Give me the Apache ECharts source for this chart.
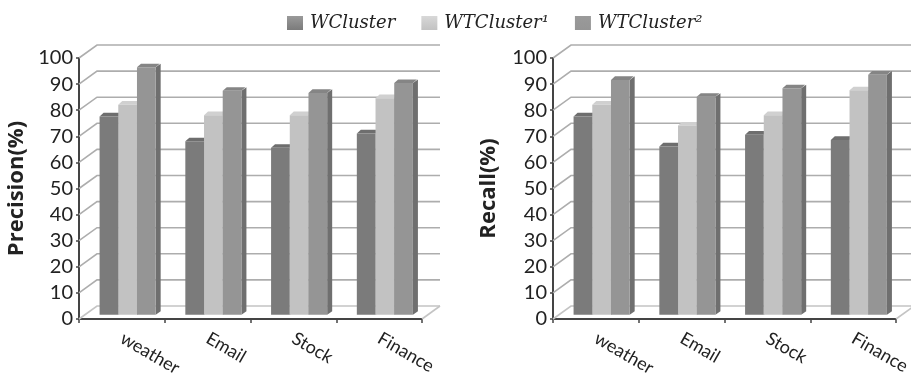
<!DOCTYPE html>
<html><head><meta charset="utf-8">
<style>html,body{margin:0;padding:0;background:#fff}#c{width:911px;height:376px}</style>
<script src="https://cdn.jsdelivr.net/npm/echarts@6/dist/echarts.min.js"></script>
</head><body><div id="c"></div>
<script>
const categories = ['weather','Email','Stock','Finance'];
const seriesNames = ['WCluster','WTCluster¹','WTCluster²'];
const yTicks = [0,10,20,30,40,50,60,70,80,90,100];
const precisionW  = [76,66.5,64,69.5];
const precisionT1 = [80.5,76.5,76.5,83];
const precisionT2 = [94.8,85.8,85,88.8];
const recallW  = [76,64.5,69,67];
const recallT1 = [80.5,72.5,76.5,86];
const recallT2 = [90,83.5,86.8,92];

const fronts = ['#7b7b7b','#c2c2c2','#959595'];
const sides  = ['#5f5f5f','#9a9a9a','#6f6f6f'];
const tops   = ['#6e6e6e','#d0d0d0','#858585'];
const WALL_DX = 18, WALL_DY = -13, BAR_DX = 5, BAR_DY = -3.6;
const BAR_W = 18.7, BAR_START = -22.3, BAR_SHIFT = -4.2;

function barRender(k){
  return function(params, api){
    const top = api.coord([api.value(0), api.value(1)]);
    const base = api.coord([api.value(0), 0]);
    const x = top[0] + BAR_START + k*BAR_W, w = BAR_W;
    const yT = top[1] + BAR_SHIFT, yB = base[1] + BAR_SHIFT;
    return {type:'group', children:[
      {type:'polygon', shape:{points:[[x+w,yT],[x+w+BAR_DX,yT+BAR_DY],[x+w+BAR_DX,yB+BAR_DY],[x+w,yB]]}, style:{fill:sides[k]}},
      {type:'polygon', shape:{points:[[x,yT],[x+BAR_DX-1,yT+BAR_DY],[x+w+BAR_DX-1,yT+BAR_DY],[x+w,yT]]}, style:{fill:tops[k]}},
      {type:'rect', shape:{x:x,y:yT,width:w,height:yB-yT}, style:{fill:fronts[k]}}
    ]};
  };
}
function wallRender(n){
  return function(params, api){
    const v = api.value(0);
    const a = api.coord([0, v]);
    const sz = api.size([1, 0]);
    const x0 = a[0] - sz[0]/2, y = a[1], x1 = x0 + sz[0]*n;
    const col = v === 0 ? '#c4c4c4' : '#adadad';
    const children = [
      {type:'polyline', shape:{points:[[x0,y],[x0+WALL_DX,y+WALL_DY],[x1+WALL_DX,y+WALL_DY]]}, style:{stroke:col,lineWidth:1.6,fill:null}}
    ];
    if (v === 0) children.push({type:'line', shape:{x1:x1,y1:y,x2:x1+WALL_DX,y2:y+WALL_DY}, style:{stroke:col,lineWidth:1.6}});
    return {type:'group', children};
  };
}
function legendColor(k){
  return {type:'linear',x:0,y:0,x2:0,y2:1,colorStops:[{offset:0,color:k===1?'#d8d8d8':'#9a9a9a'},{offset:1,color:fronts[k]}]};
}
const labelFont = 'Lato';
function axes(idx, left, right, name){
  return {
    grid:{left:left,right:right,top:58,bottom:57,outerBoundsMode:'none'},
    x:{type:'category',gridIndex:idx,data:categories,
      axisLine:{lineStyle:{color:'#444',width:2}},
      axisTick:{show:true,length:4,alignWithLabel:false,lineStyle:{color:'#444',width:1.5}},
      axisLabel:{interval:0,rotate:-30,margin:18,fontFamily:labelFont,fontSize:18,color:'#222'}},
    y:{type:'value',gridIndex:idx,min:0,max:100,interval:10,name:name,nameLocation:'middle',nameGap:name==='Recall(%)'?53:51,
      nameTextStyle:{fontFamily:'Open Sans',fontWeight:'bold',fontSize:22,color:'#222'},
      axisLine:{show:true,lineStyle:{color:'#444',width:2}},
      axisTick:{show:true,length:3,lineStyle:{color:'#444',width:1.5}},
      axisLabel:{margin:6,padding:[2,0,0,0],fontFamily:labelFont,fontSize:20,color:'#222'},
      splitLine:{show:false}}
  };
}
const a0 = axes(0,79,489,'Precision(%)'), a1 = axes(1,553,15,'Recall(%)');
const panels = [[precisionW,precisionT1,precisionT2],[recallW,recallT1,recallT2]];
const series = [];
panels.forEach((vals, p) => {
  series.push({type:'custom',silent:true,xAxisIndex:p,yAxisIndex:p,z:1,clip:false,
    renderItem:wallRender(categories.length),data:yTicks.map(v=>[v]),encode:{y:0}});
  vals.forEach((arr,k) => {
    series.push({name:seriesNames[k],type:'custom',xAxisIndex:p,yAxisIndex:p,z:2+k,clip:false,
      itemStyle:{color:fronts[k]},renderItem:barRender(k),
      encode:{x:0,y:1},data:arr.map((v,i)=>[i,v])});
  });
});
const chart = echarts.init(document.getElementById('c'),null,{renderer:'canvas'});
chart.setOption({
  animation:false,backgroundColor:'#fff',
  legend:{left:282,top:9,itemWidth:16,itemHeight:14,itemGap:26,
    icon:'rect',selectedMode:false,
    textStyle:{fontFamily:'DejaVu Serif',fontStyle:'italic',fontSize:18,color:'#222',padding:[0,0,6,2]},
    data:seriesNames.map((n,k)=>({name:n,itemStyle:{color:legendColor(k)}}))},
  grid:[a0.grid,a1.grid],
  xAxis:[a0.x,a1.x],
  yAxis:[a0.y,a1.y],
  series
});
</script></body></html>
